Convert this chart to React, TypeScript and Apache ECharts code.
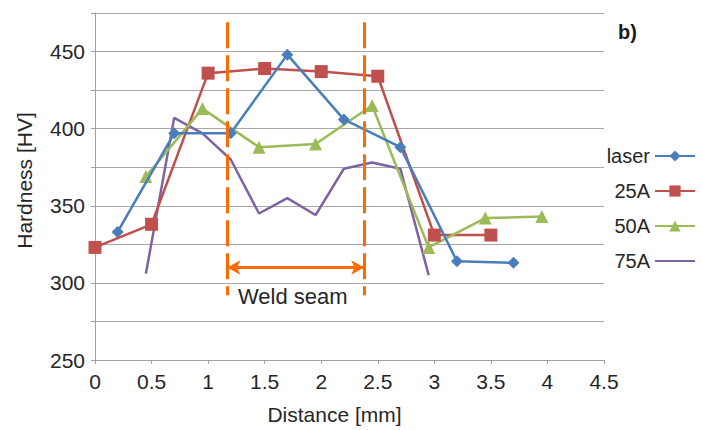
import React, { useEffect, useRef } from "react";
import * as echarts from "echarts";

const seriesNames = ["laser", "25A", "50A", "75A"];
const laserX = [0.2, 0.7, 1.2, 1.7, 2.2, 2.7, 3.2, 3.7];
const laserY = [333, 397, 397, 448, 406, 388, 314, 313];
const a25X = [0, 0.5, 1.0, 1.5, 2.0, 2.5, 3.0, 3.5];
const a25Y = [323, 338, 436, 439, 437, 434, 331, 331];
const a50X = [0.45, 0.95, 1.45, 1.95, 2.45, 2.95, 3.45, 3.95];
const a50Y = [369, 413, 388, 390, 415, 323, 342, 343];
const a75X = [0.45, 0.7, 0.95, 1.2, 1.45, 1.7, 1.95, 2.2, 2.45, 2.7, 2.95];
const a75Y = [306, 407, 397, 380, 345, 355, 344, 374, 378, 374, 305];
const seamStart = 1.17;
const seamEnd = 2.38;
const seamTop = 469;
const seamBottom = 292;
const arrowY = 310;

const zip = (xs: number[], ys: number[]) => xs.map((x, i) => [x, ys[i]]);

export default function App() {
  const ref = useRef<HTMLDivElement>(null);
  useEffect(() => {
    if (!ref.current) return;
    const chart = echarts.init(ref.current, null, { renderer: "svg" });
    const font = "Liberation Sans";
    const txt = "#262626";
    const orange = "#ff6a00";
    const dashStyle = { color: orange, width: 3, type: [26, 7] as any };
    const solidStyle = { color: orange, width: 3, type: "solid" as any };
    chart.setOption({
      animation: false,
      backgroundColor: "#fff",
      textStyle: { fontFamily: font, color: txt },
      grid: { left: 95, right: 97, top: 13, bottom: 69, containLabel: false },
      legend: {
        orient: "vertical",
        right: 0,
        top: 141,
        align: "right",
        itemWidth: 40,
        itemHeight: 14,
        itemGap: 15,
        data: [seriesNames[0], seriesNames[1], seriesNames[2], { name: seriesNames[3], itemStyle: { opacity: 0 } }],
        textStyle: { fontFamily: font, fontSize: 20, color: txt },
      },
      xAxis: {
        type: "value",
        min: 0,
        max: 4.5,
        interval: 0.5,
        name: "Distance [mm]",
        nameLocation: "middle",
        nameGap: 44,
        nameTextStyle: { fontFamily: font, fontSize: 21, color: txt, padding: [0, 30, 0, 0] },
        axisLine: { show: true, lineStyle: { color: "#a0a0a0", width: 1 } },
        axisTick: { show: true, length: 4, lineStyle: { color: "#a0a0a0" } },
        axisLabel: { fontFamily: font, fontSize: 21, color: txt, margin: 11 },
        splitLine: { show: false },
      },
      yAxis: {
        type: "value",
        min: 250,
        max: 475,
        interval: 25,
        name: "Hardness [HV]",
        nameLocation: "middle",
        nameGap: 60,
        nameTextStyle: { fontFamily: font, fontSize: 21, color: txt, padding: [0, 0, 0, 12] },
        axisLine: { show: true, lineStyle: { color: "#a0a0a0", width: 1 } },
        axisTick: { show: true, length: 4, lineStyle: { color: "#a0a0a0" } },
        axisLabel: {
          fontFamily: font,
          fontSize: 21,
          color: txt,
          margin: 10,
          formatter: (v: number) => (v % 50 === 0 && v <= 450 ? String(v) : ""),
        },
        splitLine: { show: true, lineStyle: { color: "#a8a8a8", width: 1 } },
      },
      graphic: [
        {
          type: "text",
          left: 238,
          top: 285,
          style: { text: "Weld seam", fontFamily: font, fontSize: 22, fill: txt },
        },
        {
          type: "text",
          left: 618,
          top: 22,
          style: { text: "b)", fontFamily: font, fontSize: 20, fontWeight: "bold", fill: "#1a1a1a" },
        },
      ],
      series: [
        {
          name: seriesNames[0],
          type: "line",
          data: zip(laserX, laserY),
          symbol: "diamond",
          symbolSize: 12,
          itemStyle: { color: "#4a7ebb" },
          lineStyle: { color: "#4a7ebb", width: 2.5 },
          z: 4,
          markLine: {
            silent: true,
            symbol: ["none", "none"],
            label: { show: false },
            data: [
              [
                { coord: [seamStart, seamTop], lineStyle: dashStyle },
                { coord: [seamStart, seamBottom], lineStyle: dashStyle },
              ],
              [
                { coord: [seamEnd, seamTop], lineStyle: dashStyle },
                { coord: [seamEnd, seamBottom], lineStyle: dashStyle },
              ],
              [
                { coord: [seamStart, arrowY], symbol: "arrow", symbolSize: [11, 13], lineStyle: solidStyle },
                { coord: [seamEnd, arrowY], symbol: "arrow", symbolSize: [11, 13], lineStyle: solidStyle },
              ],
            ],
          },
        },
        {
          name: seriesNames[1],
          type: "line",
          data: zip(a25X, a25Y),
          symbol: "rect",
          symbolSize: 13,
          itemStyle: { color: "#c0504d" },
          lineStyle: { color: "#c0504d", width: 2.5 },
          z: 3,
        },
        {
          name: seriesNames[2],
          type: "line",
          data: zip(a50X, a50Y),
          symbol: "triangle",
          symbolSize: 13,
          itemStyle: { color: "#9bbb59" },
          lineStyle: { color: "#9bbb59", width: 2.5 },
          z: 3,
        },
        {
          name: seriesNames[3],
          type: "line",
          data: zip(a75X, a75Y),
          showSymbol: false,
          symbol: "none",
          itemStyle: { color: "#7f63a1" },
          lineStyle: { color: "#7f63a1", width: 2.5 },
          z: 2,
        },
      ],
    });
    return () => chart.dispose();
  }, []);
  return (
    <div
      ref={ref}
      style={{ position: "absolute", left: 0, top: 0, width: 701, height: 430, background: "#fff" }}
    />
  );
}
